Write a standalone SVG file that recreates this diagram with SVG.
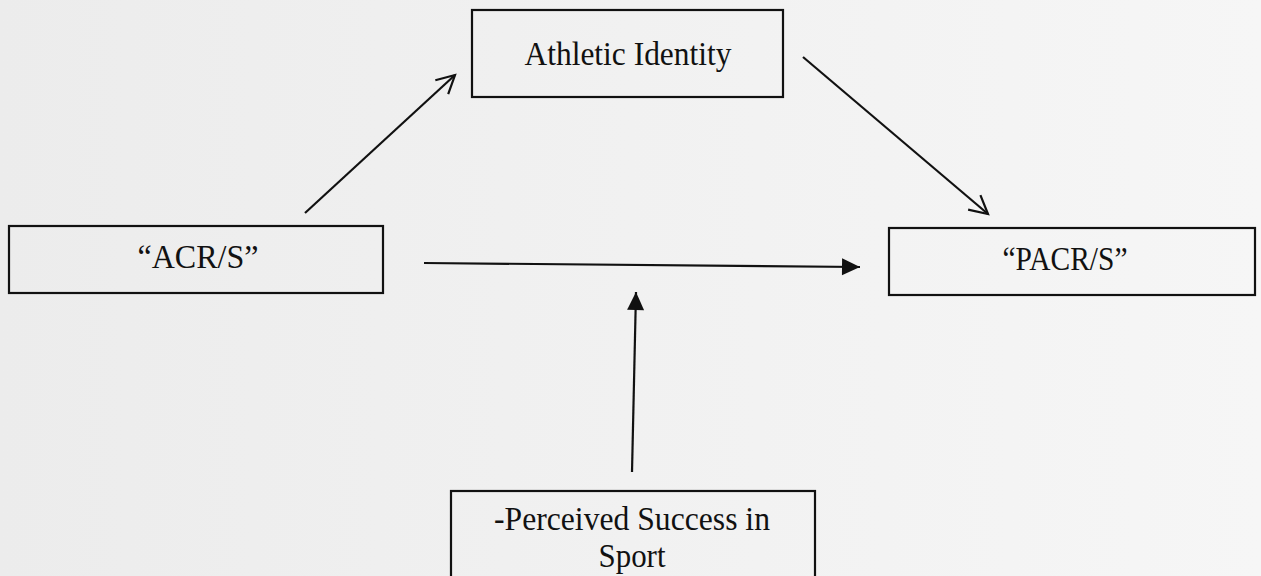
<svg xmlns="http://www.w3.org/2000/svg" width="1261" height="576" viewBox="0 0 1261 576">
  <style>
    .box { fill: none; stroke: #111; stroke-width: 2.2; }
    .lbl { font-family: "Liberation Serif", "Times New Roman", serif; font-size: 34px; fill: #111; text-anchor: middle; }
    .edge { stroke: #111; stroke-width: 2.2; fill: none; }
  </style>
  <defs>
    <linearGradient id="bg" x1="0" y1="0" x2="1" y2="0">
      <stop offset="0" stop-color="#ececec"/>
      <stop offset="0.5" stop-color="#f1f1f1"/>
      <stop offset="1" stop-color="#f6f6f6"/>
    </linearGradient>
    <marker id="open" markerUnits="userSpaceOnUse" viewBox="-20 -11 22 22" refX="0" refY="0" markerWidth="22" markerHeight="22" orient="auto" overflow="visible">
      <path d="M-18,-9.5 L0,0 L-18,9.5" fill="none" stroke="#111" stroke-width="2.2" stroke-linejoin="miter"/>
    </marker>
    <marker id="solid" markerUnits="userSpaceOnUse" viewBox="-20 -10 22 20" refX="0" refY="0" markerWidth="22" markerHeight="20" orient="auto" overflow="visible">
      <path d="M-18,-8.5 L0,0 L-18,8.5 Z" fill="#111"/>
    </marker>
  </defs>
  <rect x="0" y="0" width="1261" height="576" fill="url(#bg)"/>

  <g id="connectors">
    <line class="edge" x1="305" y1="213" x2="455" y2="75" marker-end="url(#open)"/>
    <line class="edge" x1="803" y1="57" x2="988" y2="214" marker-end="url(#open)"/>
    <line class="edge" x1="424" y1="263" x2="860" y2="267" marker-end="url(#solid)"/>
    <line class="edge" x1="632" y1="472" x2="636" y2="292" marker-end="url(#solid)"/>
  </g>

  <g id="node-athletic-identity">
    <rect class="box" x="472" y="10" width="311" height="87" stroke-width="1.6"/>
    <text class="lbl" x="628" y="65" textLength="207" lengthAdjust="spacingAndGlyphs">Athletic Identity</text>
  </g>

  <g id="node-acrs">
    <rect class="box" x="9" y="226" width="374" height="67"/>
    <text class="lbl" x="198" y="268" textLength="121" lengthAdjust="spacingAndGlyphs">“ACR/S”</text>
  </g>

  <g id="node-pacrs">
    <rect class="box" x="889" y="228" width="366" height="67"/>
    <text class="lbl" x="1065" y="270" textLength="125" lengthAdjust="spacingAndGlyphs">“PACR/S”</text>
  </g>

  <g id="node-perceived-success">
    <rect class="box" x="451" y="491" width="364" height="100"/>
    <text class="lbl" x="632" y="530" textLength="276" lengthAdjust="spacingAndGlyphs">-Perceived Success in</text>
    <text class="lbl" x="632" y="567" textLength="67" lengthAdjust="spacingAndGlyphs">Sport</text>
  </g>
</svg>
